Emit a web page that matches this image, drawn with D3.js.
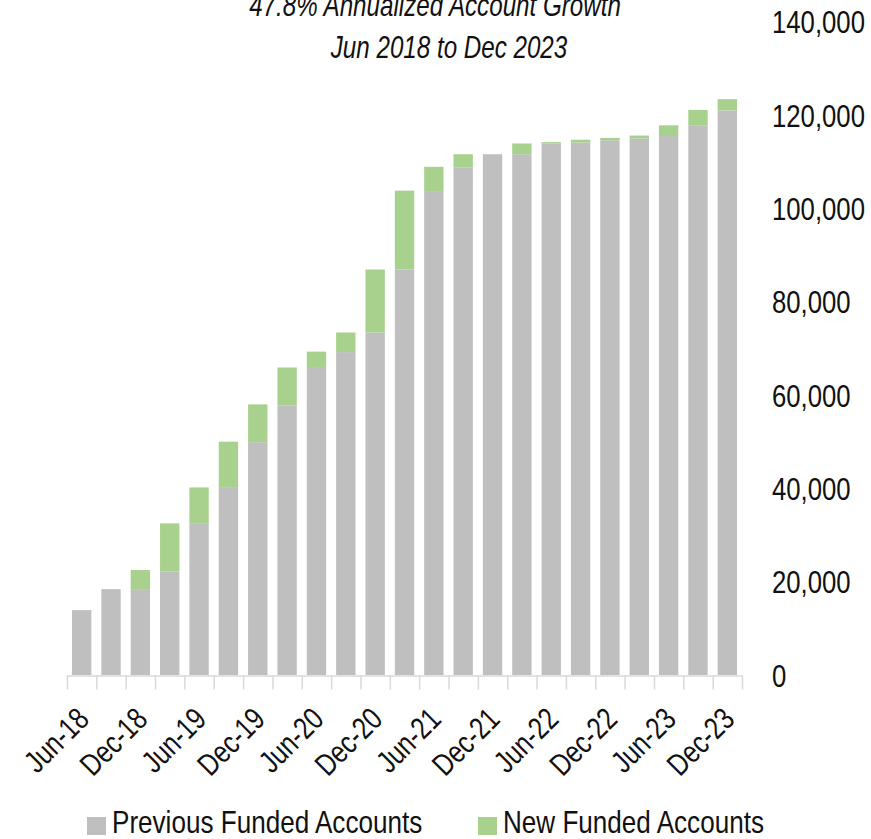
<!DOCTYPE html>
<html>
<head>
<meta charset="utf-8">
<script src="https://cdn.jsdelivr.net/npm/d3@7"></script>
<style>
  html, body { margin: 0; padding: 0; background: #ffffff; }
  svg { display: block; }
  text { font-family: "Liberation Sans", Arial, sans-serif; fill: #111; }
</style>
</head>
<body>
<svg id="chart" width="871" height="839"></svg>
<script>
// Quarterly funded accounts, Jun 2018 to Dec 2023
const quarters = [
  "Jun-18","Sep-18","Dec-18","Mar-19","Jun-19","Sep-19","Dec-19","Mar-20",
  "Jun-20","Sep-20","Dec-20","Mar-21","Jun-21","Sep-21","Dec-21","Mar-22",
  "Jun-22","Sep-22","Dec-22","Mar-23","Jun-23","Sep-23","Dec-23"
];
const previousFunded = [
  13900, 18400, 18400, 22200, 32400, 40100, 49900, 57800,
  65800, 69200, 73400, 86900, 103700, 108800, 111600, 111600,
  113900, 114100, 114600, 115000, 115500, 117700, 121000
];
const newFunded = [
  0, 0, 4100, 10300, 7800, 9900, 8100, 8100,
  3500, 4200, 13500, 16900, 5200, 2800, 0, 2300,
  300, 600, 500, 600, 2300, 3400, 2400
];
const tickLabels = [
  "Jun-18","Dec-18","Jun-19","Dec-19","Jun-20","Dec-20",
  "Jun-21","Dec-21","Jun-22","Dec-22","Jun-23","Dec-23"
];
const yTicks = [0, 20000, 40000, 60000, 80000, 100000, 120000, 140000];
const titleLines = ["47.8% Annualized Account Growth", "Jun 2018 to Dec 2023"];
const seriesNames = ["Previous Funded Accounts", "New Funded Accounts"];

const colors = { previous: "#bfbfbf", fresh: "#a9d18e", axis: "#d9d9d9" };
const squeeze = 0.8;   // narrow type
const fontSize = 31;

const svg = d3.select("#chart");

const x = d3.scaleBand().domain(quarters).range([67, 742])
  .paddingInner(0.34).paddingOuter(0.17);
const y = d3.scaleLinear().domain([0, 140000]).range([675, 21.7]);

const rows = quarters.map((q, i) => ({ q, previous: previousFunded[i], fresh: newFunded[i] }));
const stack = d3.stack().keys(["previous", "fresh"])(rows);

// Stacked bars
svg.append("g").selectAll("g")
  .data(stack).join("g")
  .attr("fill", d => colors[d.key])
  .selectAll("rect")
  .data(d => d).join("rect")
  .attr("x", d => x(d.data.q))
  .attr("width", x.bandwidth())
  .attr("y", d => y(d[1]))
  .attr("height", d => y(d[0]) - y(d[1]));

// Category axis: ticks sit between the bars
const xEdges = d3.scaleLinear().domain([0, quarters.length]).range(x.range());
const xAxis = svg.append("g").attr("transform", "translate(0,675.5)")
  .call(d3.axisBottom(xEdges).tickValues(d3.range(quarters.length + 1))
    .tickSize(14).tickSizeOuter(0).tickFormat(""));
xAxis.selectAll("path, line").attr("stroke", colors.axis).attr("stroke-width", 1.5);

// Rotated quarter labels (45 degrees)
svg.append("g").selectAll("text")
  .data(tickLabels).join("text")
  .attr("text-anchor", "end")
  .attr("font-size", fontSize)
  .attr("transform", d => `translate(${x(d) + x.bandwidth() / 2 + 9},721) rotate(-45) scale(${squeeze},1)`)
  .text(d => d);

// Value axis on the right
const yAxis = svg.append("g").attr("transform", "translate(772,0)")
  .call(d3.axisRight(y).tickValues(yTicks).tickSize(0).tickPadding(0)
    .tickFormat(d3.format(",")));
yAxis.select(".domain").remove();
yAxis.selectAll("text")
  .attr("x", 0)
  .attr("dy", "0.36em")
  .attr("fill", "#111")
  .attr("transform", "scale(0.83,1)")
  .style("font-family", "'Liberation Sans', Arial, sans-serif")
  .style("font-size", fontSize + "px");

// Title
const titlePos = [[435, 16], [449, 58]];
svg.append("g").selectAll("text")
  .data(titleLines).join("text")
  .attr("text-anchor", "middle")
  .attr("font-style", "italic")
  .attr("font-size", fontSize)
  .attr("transform", (d, i) => `translate(${titlePos[i][0]},${titlePos[i][1]}) scale(0.78,1)`)
  .text(d => d);

// Legend
const legendX = [87, 478];
const legend = svg.append("g").selectAll("g")
  .data(seriesNames).join("g")
  .attr("transform", (d, i) => `translate(${legendX[i]},0)`);
legend.append("rect")
  .attr("x", 0).attr("y", 817).attr("width", 19).attr("height", 18)
  .attr("fill", (d, i) => i === 0 ? colors.previous : colors.fresh);
legend.append("text")
  .attr("font-size", 32)
  .attr("transform", `translate(25,833) scale(0.815,1)`)
  .text(d => d);
</script>
</body>
</html>
